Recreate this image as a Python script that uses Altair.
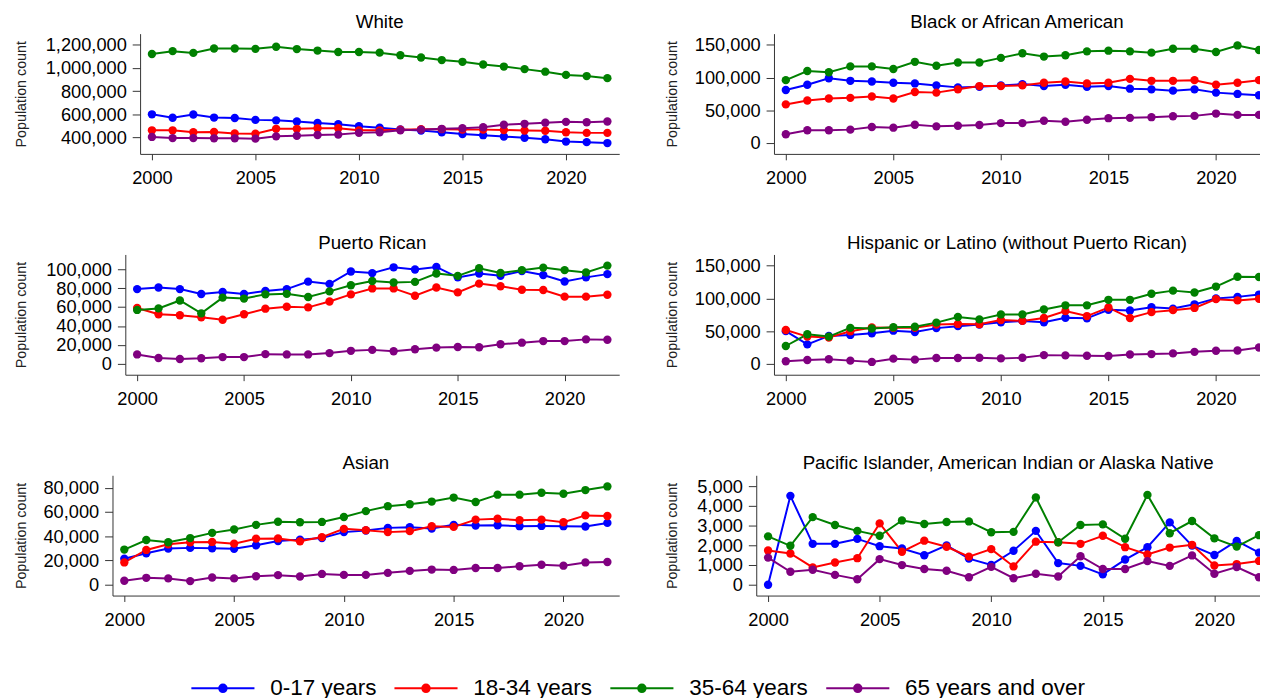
import altair as alt
import pandas as pd

years = [2000, 2001, 2002, 2003, 2004, 2005, 2006, 2007, 2008, 2009, 2010, 2011,
         2012, 2013, 2014, 2015, 2016, 2017, 2018, 2019, 2020, 2021, 2022]
series = ["0-17 years", "18-34 years", "35-64 years", "65 years and over"]
colors = ["#0000FF", "#FF0000", "#008000", "#800080"]
x_ticks = [2000, 2005, 2010, 2015, 2020]

# ---- White
white_0_17 = [600000, 570000, 598000, 572000, 568000, 552000, 548000, 538000, 525000, 515000, 498000, 485000,
              470000, 460000, 445000, 430000, 420000, 408000, 398000, 385000, 365000, 360000, 352000]
white_18_34 = [462000, 462000, 445000, 448000, 435000, 432000, 475000, 475000, 480000, 480000, 462000, 462000,
               468000, 472000, 472000, 468000, 468000, 465000, 460000, 458000, 445000, 440000, 440000]
white_35_64 = [1120000, 1145000, 1130000, 1168000, 1168000, 1165000, 1183000, 1163000, 1150000, 1138000, 1138000,
               1132000, 1110000, 1090000, 1068000, 1053000, 1030000, 1012000, 990000, 968000, 940000, 930000, 912000]
white_65 = [405000, 395000, 395000, 393000, 393000, 390000, 410000, 415000, 422000, 425000, 440000, 445000,
            462000, 468000, 475000, 480000, 488000, 510000, 518000, 528000, 535000, 532000, 538000]
white_ticks = [400000, 600000, 800000, 1000000, 1200000]

# ---- Black or African American
black_0_17 = [81000, 89000, 99000, 95000, 94000, 92000, 91000, 88000, 85000, 86000, 88000, 90000,
              87000, 89000, 86000, 87000, 83000, 82000, 80000, 82000, 77000, 75000, 73000]
black_18_34 = [59000, 65000, 68000, 69000, 71000, 68000, 78000, 77000, 82000, 87000, 87000, 88000,
               92000, 94000, 91000, 92000, 98000, 95000, 95000, 96000, 89000, 92000, 96000]
black_35_64 = [96000, 110000, 108000, 117000, 117000, 113000, 124000, 118000, 123000, 123000, 130000, 137000,
               132000, 134000, 140000, 141000, 140000, 138000, 144000, 144000, 139000, 149000, 142000]
black_65 = [13500, 19500, 19500, 20500, 24500, 23500, 28000, 25500, 26500, 27500, 30500, 30500,
            34000, 32500, 35500, 38000, 38500, 39500, 41000, 41500, 45000, 43000, 43000]
black_ticks = [0, 50000, 100000, 150000]

# ---- Puerto Rican
pr_0_17 = [79000, 80700, 79000, 73800, 76000, 73800, 77000, 79000, 86900, 84500, 97600, 95900,
           102000, 99700, 102400, 91400, 95500, 93000, 98000, 93800, 87000, 91400, 94800]
pr_18_34 = [59000, 52400, 51400, 49300, 46600, 52400, 58300, 60300, 59700, 65900, 73400, 79700,
            79700, 72000, 80700, 75500, 84800, 82000, 78300, 78000, 71000, 71000, 73000]
pr_35_64 = [57000, 58600, 67000, 53400, 70000, 69000, 73400, 74000, 70700, 76600, 83000, 87600,
            86000, 86600, 95500, 93000, 101000, 96000, 99000, 101700, 99000, 96600, 103800]
pr_65 = [10000, 6200, 5200, 5900, 7200, 7200, 10300, 10000, 10000, 11400, 13800, 14800,
         13400, 15500, 17200, 17900, 17600, 20700, 22400, 24100, 24100, 25900, 25500]
pr_ticks = [0, 20000, 40000, 60000, 80000, 100000]

# ---- Hispanic or Latino (without Puerto Rican)
hisp_0_17 = [50000, 29800, 42700, 44200, 46700, 50700, 48700, 54600, 57600, 60000, 63600, 65600,
             63600, 70500, 69500, 82500, 81500, 86400, 84400, 90900, 99800, 102300, 105800]
hisp_18_34 = [51700, 41700, 40200, 49700, 55600, 55000, 55000, 60000, 61000, 60600, 67000, 65600,
              70000, 80500, 73000, 86000, 70000, 79000, 82000, 85400, 98800, 96900, 99300]
hisp_35_64 = [27300, 45200, 41700, 55000, 54000, 56000, 56600, 63000, 71500, 68000, 75500, 75500,
              83000, 89400, 89400, 97800, 97800, 107000, 111800, 109000, 118000, 133000, 132600]
hisp_65 = [4000, 6000, 7000, 5000, 3000, 8000, 6500, 9000, 9000, 9400, 8400, 9400,
           13400, 13000, 12400, 12000, 14400, 15000, 16000, 18400, 20000, 20400, 25000]
hisp_ticks = [0, 50000, 100000, 150000]

# ---- Asian
asian_0_17 = [21400, 26000, 29800, 30400, 30100, 29600, 32500, 36000, 37200, 38500, 43400, 44700,
              46900, 47500, 46400, 49400, 48800, 49100, 48300, 48500, 48300, 48000, 51000]
asian_18_34 = [18400, 28700, 33400, 35000, 35300, 33900, 38000, 38200, 35800, 39300, 46100, 45000,
               43400, 44200, 48300, 47700, 53700, 54500, 53200, 53700, 51500, 57200, 56700]
asian_35_64 = [29000, 36900, 35000, 38500, 42800, 45600, 49400, 52000, 51500, 51800, 55900, 60700,
               64800, 66400, 68600, 71900, 68300, 74300, 74300, 75900, 75100, 78100, 81100]
asian_65 = [3300, 5700, 5200, 3000, 6000, 5200, 7000, 7900, 6800, 8900, 8100, 8100,
            9800, 11400, 12500, 12200, 13800, 13800, 15200, 16500, 15700, 18400, 18700]
asian_ticks = [0, 20000, 40000, 60000, 80000]

# ---- Pacific Islander, American Indian or Alaska Native
pac_0_17 = [0, 4520, 2080, 2080, 2330, 1960, 1840, 1500, 2000, 1330, 1010, 1730,
            2740, 1100, 960, 530, 1280, 1910, 3170, 1990, 1510, 2230, 1630]
pac_18_34 = [1740, 1590, 880, 1130, 1350, 3120, 1680, 2240, 1930, 1430, 1810, 930,
             2190, 2160, 2080, 2490, 1910, 1540, 1890, 2030, 980, 1050, 1210]
pac_35_64 = [2460, 1980, 3440, 3040, 2740, 2490, 3270, 3090, 3190, 3220, 2670, 2690,
             4440, 2160, 3040, 3070, 2340, 4570, 2620, 3240, 2360, 1940, 2520]
pac_65 = [1380, 660, 760, 500, 280, 1300, 1000, 800, 710, 380, 910, 330,
          560, 420, 1450, 800, 800, 1200, 960, 1490, 560, 900, 380]
pac_ticks = [0, 1000, 2000, 3000, 4000, 5000]

FONT = "Liberation Sans"
H = 122            # plot height
INNER_TOP = 11.3   # px between top of plot and highest value/tick
INNER_BOT = 11.0   # px between bottom of plot and lowest value/tick
X_PAD = 12         # px between y axis and first year
PAD_L, PAD_T = 6, 0
LEFT_W, LEFT_EXT = 514, 85      # left column: common view width / common axis extent
RIGHT_W, RIGHT_EXT = 511, 78    # right column

LEG_PATH = ("M-1,0L1,0"
            "M-0.119,0A0.119,0.119,0,1,0,0.119,0A0.119,0.119,0,1,0,-0.119,0"
            "M-0.075,0A0.075,0.075,0,1,0,0.075,0A0.075,0.075,0,1,0,-0.075,0"
            "M-0.031,0A0.031,0.031,0,1,0,0.031,0A0.031,0.031,0,1,0,-0.031,0")

legend = alt.Legend(
    orient="none", legendX=79, legendY=653 - PAD_T,
    direction="horizontal", title=None, symbolType=LEG_PATH, symbolSize=4096,
    symbolStrokeWidth=2, labelFontSize=22.8, labelFont=FONT, labelColor="#000000",
    labelOffset=15, columnPadding=17, clipHeight=22, padding=0, labelLimit=0,
)


def panel(title, vals, ticks, width, ext, shift, right_pad=X_PAD, clip=False):
    rows = []
    for s, arr in zip(series, vals):
        for yr, v in zip(years, arr):
            rows.append({"year": yr, "value": v, "series": s})
    df = pd.DataFrame(rows)
    allv = [v for arr in vals for v in arr]
    lo = min(min(allv), ticks[0])
    hi = max(max(allv), ticks[-1])
    inner = H - INNER_TOP - INNER_BOT
    span = hi - lo
    ydom = [lo - span * INNER_BOT / inner, hi + span * INNER_TOP / inner]
    pxyr = (width - shift - X_PAD - right_pad) / (years[-1] - years[0])
    xdom = [years[0] - X_PAD / pxyr, years[-1] + right_pad / pxyr]

    x = alt.X("year:Q", scale=alt.Scale(domain=xdom, range=[shift, width], nice=False, zero=False),
              axis=alt.Axis(values=x_ticks, format="d", title=None, labelPadding=9, tickSize=6,
                            minExtent=32, maxExtent=32))
    y = alt.Y("value:Q", scale=alt.Scale(domain=ydom, nice=False, zero=False),
              axis=alt.Axis(values=ticks, format=",d", title="Population count", offset=-shift,
                            tickSize=8, labelPadding=6, minExtent=ext + shift, maxExtent=ext + shift,
                            titlePadding=0, titleFontSize=14.5, titleFontWeight="normal"))
    line = alt.Chart(df).mark_line(strokeWidth=2, clip=clip).encode(
        x=x, y=y,
        color=alt.Color("series:N", scale=alt.Scale(domain=series, range=colors), legend=legend),
    )
    pts = alt.Chart(df).mark_point(filled=True, size=72, opacity=1, clip=clip).encode(
        x=x, y=y,
        color=alt.Color("series:N", scale=alt.Scale(domain=series, range=colors), legend=None),
    )
    return alt.layer(line, pts).properties(
        width=width, height=H,
        title=alt.TitleParams(title, fontSize=19, fontWeight="normal", font=FONT, color="#000000",
                              offset=2, frame="group", anchor="middle", dx=shift / 2),
    )


white = panel("White", [white_0_17, white_18_34, white_35_64, white_65], white_ticks,
              LEFT_W, LEFT_EXT, 28)
black = panel("Black or African American", [black_0_17, black_18_34, black_35_64, black_65], black_ticks,
              RIGHT_W, RIGHT_EXT, 18, right_pad=1, clip=True)
pr = panel("Puerto Rican", [pr_0_17, pr_18_34, pr_35_64, pr_65], pr_ticks,
           LEFT_W, LEFT_EXT, 13)
hisp = panel("Hispanic or Latino (without Puerto Rican)", [hisp_0_17, hisp_18_34, hisp_35_64, hisp_65],
             hisp_ticks, RIGHT_W, RIGHT_EXT, 18, right_pad=1, clip=True)
asian = panel("Asian", [asian_0_17, asian_18_34, asian_35_64, asian_65], asian_ticks,
              LEFT_W, LEFT_EXT, 0)
pac = panel("Pacific Islander, American Indian or Alaska Native", [pac_0_17, pac_18_34, pac_35_64, pac_65],
            pac_ticks, RIGHT_W, RIGHT_EXT, 0, right_pad=1, clip=True)

chart = alt.concat(
    white, black, pr, hisp, asian, pac,
    columns=2, spacing={"row": 47, "column": 46},
).resolve_scale(
    color="shared", x="independent", y="independent"
).properties(
    padding={"left": PAD_L, "top": PAD_T, "right": 0, "bottom": 0}
).configure(
    font=FONT
).configure_view(
    stroke=None
).configure_axis(
    grid=False, domainColor="#333333", tickColor="#333333", domainWidth=1, tickWidth=1,
    labelFontSize=18.5, labelFont=FONT, labelColor="#000000", titleFont=FONT, titleColor="#222222",
)

chart.save("out.html", embed_options={"renderer": "svg", "actions": False})
